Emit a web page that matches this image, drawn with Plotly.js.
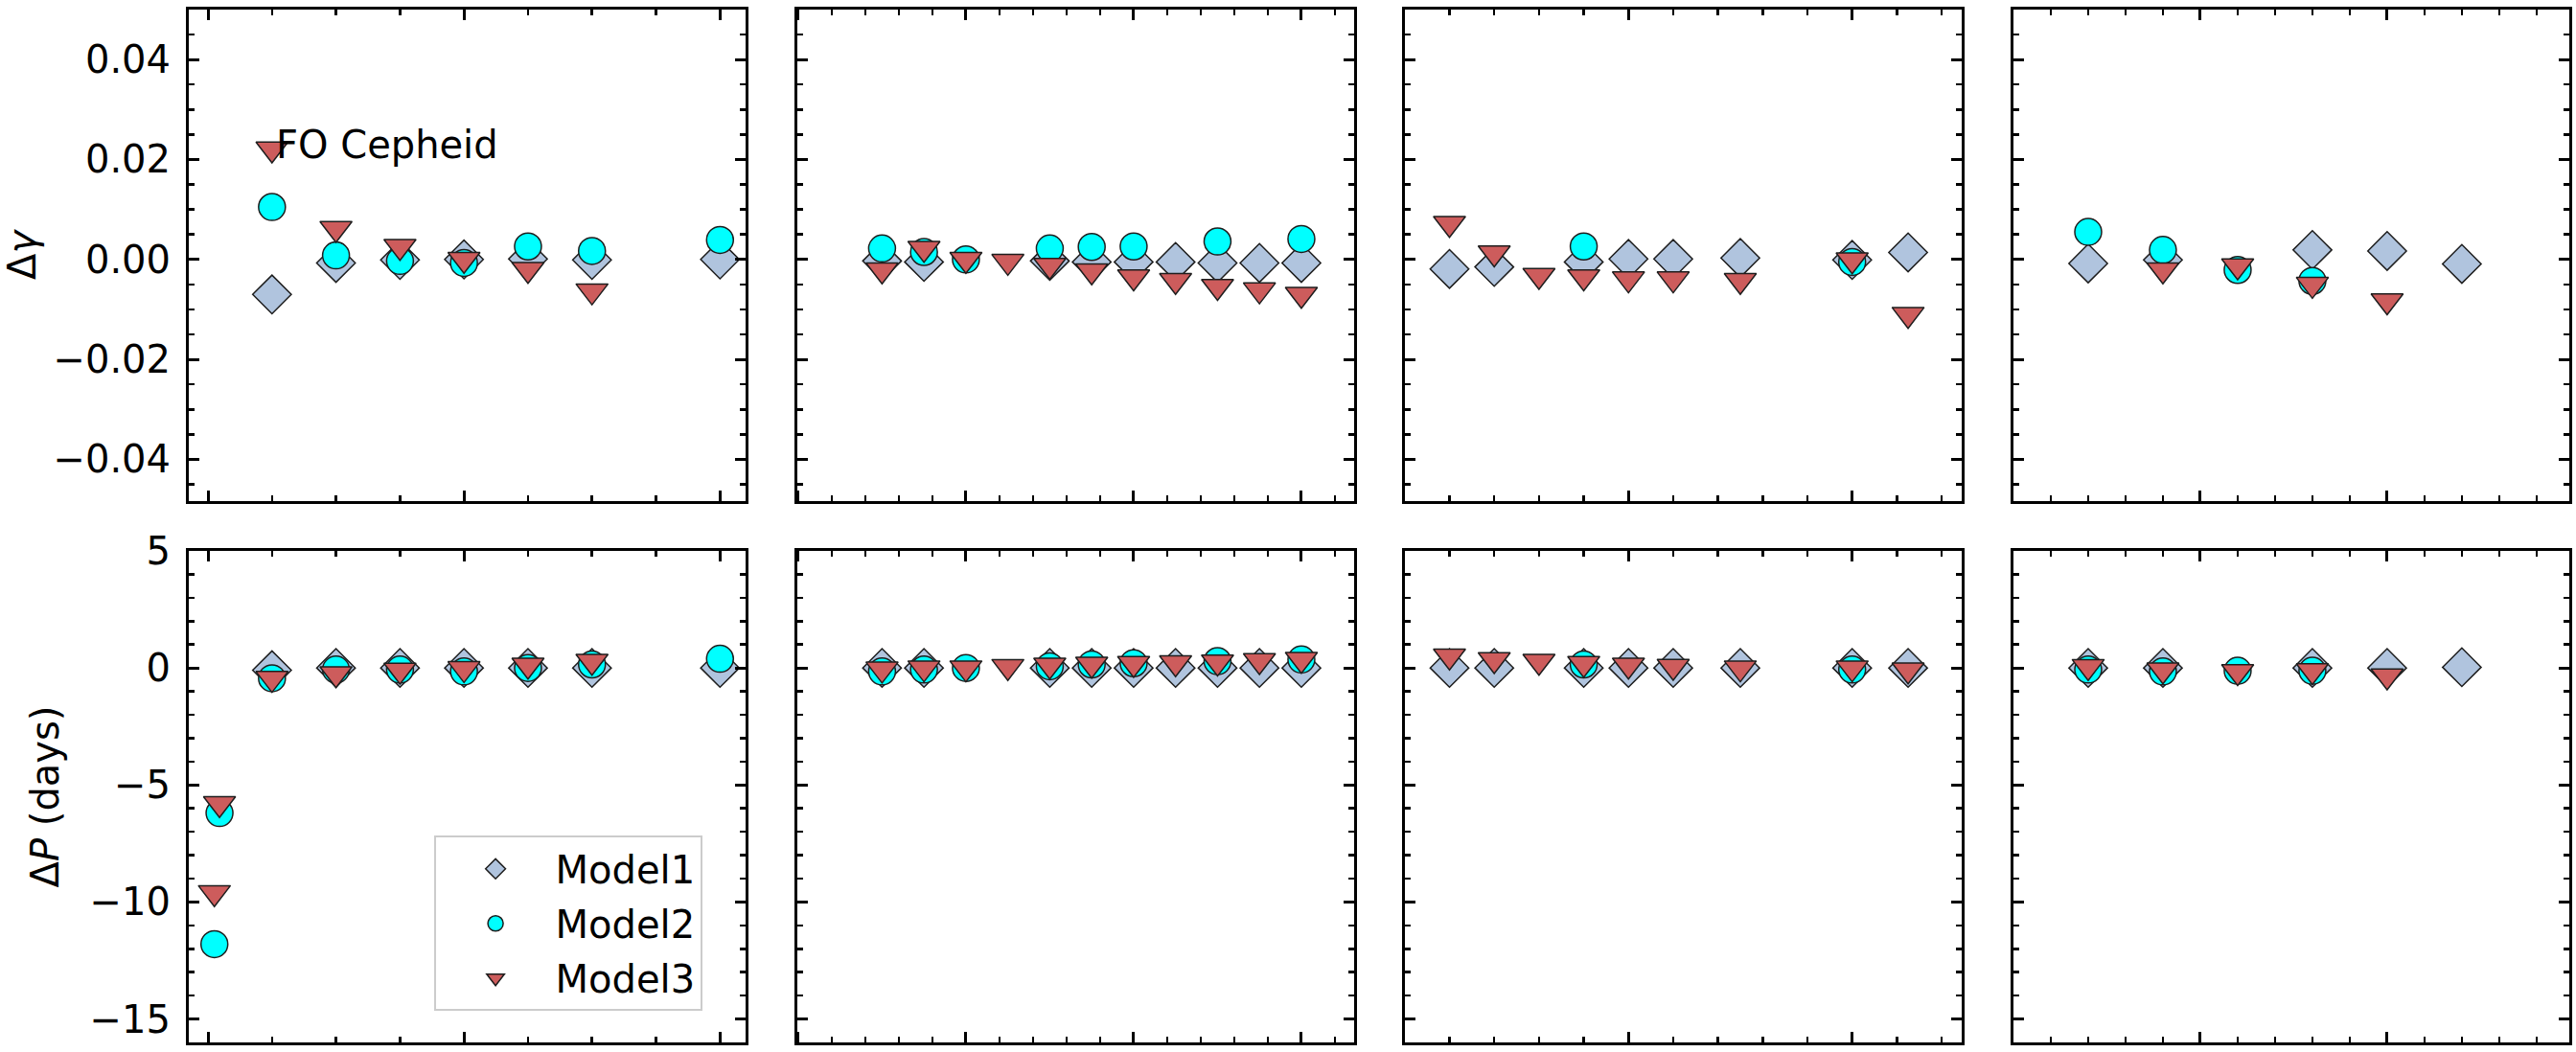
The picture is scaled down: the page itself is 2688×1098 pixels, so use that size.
<!DOCTYPE html>
<html><head><meta charset="utf-8">
<script src="https://cdn.plot.ly/plotly-3.0.1.min.js"></script>
<style>html,body{margin:0;padding:0;background:#fff}#chart{width:2688px;height:1098px}</style>
</head><body><div id="chart"></div>
<script>
// ---------------- data ----------------
const modelNames = ['Model1', 'Model2', 'Model3'];
const annotationText = 'FO Cepheid';
const yTitleTop = 'Δ<i>γ</i>';
const yTitleBottom = 'Δ<i>P</i> (days)';

// column 1
const x1Gamma = [0.5, 1.0, 1.5, 2.0, 2.5, 3.0, 4.0];
const m1Gamma1 = [-0.007, -0.0007, -0.0001, 0.0, 0.0001, -0.0001, 0.0];
const m2Gamma1 = [0.0105, 0.0008, -0.0003, -0.0007, 0.0026, 0.0017, 0.0039];
const m3Gamma1 = [0.0221, 0.0062, 0.0026, 0.0, -0.002, -0.0063, null];
const x1Period = [0.05, 0.09, 0.5, 1.0, 1.5, 2.0, 2.5, 3.0, 4.0];
const m1Period1 = [null, null, -0.1, 0.0, 0.0, 0.0, 0.0, 0.0, 0.0];
const m2Period1 = [-11.8, -6.2, -0.44, -0.07, -0.07, -0.15, 0.0, 0.15, 0.39];
const m3Period1 = [-9.6, -5.8, -0.45, -0.25, -0.1, -0.03, 0.12, 0.28, null];

// column 2
const x2 = [-0.5, -0.25, 0, 0.25, 0.5, 0.75, 1.0, 1.25, 1.5, 1.75, 2.0];
const m1Gamma2 = [-0.0003, -0.0005, null, null, -0.0003, -0.0005, -0.0005, -0.0005, -0.0007, -0.0007, -0.0007];
const m2Gamma2 = [0.0022, 0.0015, 0.0, null, 0.0022, 0.0025, 0.0026, null, 0.0036, null, 0.0041];
const m3Gamma2 = [-0.0021, 0.0022, 0.0, -0.0004, -0.0012, -0.0023, -0.0035, -0.0042, -0.0054, -0.0061, -0.007];
const m1Period2 = [0, 0, null, null, 0, 0, 0, 0, 0, 0, 0];
const m2Period2 = [-0.15, -0.07, 0, null, 0.07, 0.15, 0.2, null, 0.29, null, 0.36];
const m3Period2 = [-0.05, 0, 0, 0.06, 0.12, 0.16, 0.19, 0.22, 0.25, 0.31, 0.36];

// column 3
const x3 = [-0.8, -0.6, -0.4, -0.2, 0, 0.2, 0.5, 1.0, 1.25];
const m1Gamma3 = [-0.0019, -0.0015, null, -0.0005, 0.0001, 0.0001, 0.0003, -0.0001, 0.0014];
const m2Gamma3 = [null, null, null, 0.0026, null, null, null, -0.0005, null];
const m3Gamma3 = [0.0072, 0.0013, -0.0032, -0.0035, -0.0039, -0.0039, -0.0042, -0.0001, -0.011];
const m1Period3 = [0, 0, null, 0, 0, 0, 0, 0, 0];
const m2Period3 = [null, null, null, 0.15, null, null, null, -0.07, null];
const m3Period3 = [0.51, 0.35, 0.28, 0.19, 0.12, 0.07, 0, 0, -0.09];

// column 4
const x4 = [-0.6, -0.2, 0.2, 0.6, 1.0, 1.4];
const m1Gamma4 = [-0.0008, -0.0001, null, 0.0019, 0.0017, -0.0009];
const m2Gamma4 = [0.0055, 0.0019, -0.0021, -0.0043, null, null];
const m3Gamma4 = [null, -0.0021, -0.0013, -0.005, -0.0083, null];
const m1Period4 = [0, 0, null, 0, 0, 0.03];
const m2Period4 = [-0.07, -0.15, -0.12, -0.12, null, null];
const m3Period4 = [0.06, -0.09, -0.16, -0.12, -0.34, null];

// ---------------- styling ----------------
const FONT = 'DejaVu Sans, Liberation Sans, sans-serif';
const styles = [
  {symbol: 'diamond', size: 31, color: '#B0C4DE'},
  {symbol: 'circle', size: 28, color: '#00FFFF'},
  {symbol: 'triangle-down', size: 29, color: '#CD5C5C'}
];

const panels = [
  // top row
  {x: [x1Gamma, x1Gamma, x1Gamma], y: [m1Gamma1, m2Gamma1, m3Gamma1]},
  {x: [x2, x2, x2], y: [m1Gamma2, m2Gamma2, m3Gamma2]},
  {x: [x3, x3, x3], y: [m1Gamma3, m2Gamma3, m3Gamma3]},
  {x: [x4, x4, x4], y: [m1Gamma4, m2Gamma4, m3Gamma4]},
  // bottom row
  {x: [x1Period, x1Period, x1Period], y: [m1Period1, m2Period1, m3Period1]},
  {x: [x2, x2, x2], y: [m1Period2, m2Period2, m3Period2]},
  {x: [x3, x3, x3], y: [m1Period3, m2Period3, m3Period3]},
  {x: [x4, x4, x4], y: [m1Period4, m2Period4, m3Period4]}
];

const traces = [];
panels.forEach((p, i) => {
  const n = i + 1;
  for (let m = 0; m < 3; m++) {
    traces.push({
      type: 'scatter', mode: 'markers',
      x: p.x[m], y: p.y[m],
      xaxis: 'x' + (n === 1 ? '' : n), yaxis: 'y' + (n === 1 ? '' : n),
      name: modelNames[m], legendgroup: modelNames[m],
      showlegend: n === 5,
      marker: {symbol: styles[m].symbol, size: styles[m].size, color: styles[m].color,
               line: {color: '#1e1e1e', width: 1.5}},
      hoverinfo: 'skip'
    });
  }
});

const colDomains = [[0, 0.2339], [0.2555, 0.4895], [0.5108, 0.7448], [0.7665, 1]];
const colX = [
  {range: [-0.15, 4.2], dtick: 2, minor: 0.5},
  {range: [-1.007, 2.314], dtick: 1, minor: 0.2},
  {range: [-1.0, 1.49], dtick: 1, minor: 0.2},
  {range: [-1.0, 1.975], dtick: 1, minor: 0.2}
];
const rowDomains = [[0.5244, 1], [0, 0.4759]];
const rowY = [
  {range: [-0.0483, 0.05], dtick: 0.02, minor: 0.005, fmt: '.2f', title: yTitleTop, standoff: 14},
  {range: [-16, 5], dtick: 5, minor: 1, fmt: '', title: yTitleBottom, standoff: 20}
];

const baseAxis = {
  showline: true, linecolor: 'black', linewidth: 3, mirror: 'allticks',
  ticks: 'inside', ticklen: 11, tickwidth: 3, tickcolor: 'black',
  showgrid: false, zeroline: false, fixedrange: true,
  tickfont: {family: FONT, size: 40, color: 'black'}
};

const layout = {
  width: 2688, height: 1098,
  margin: {l: 197, r: 7, t: 10, b: 10},
  paper_bgcolor: 'white', plot_bgcolor: 'white',
  font: {family: FONT, color: 'black', size: 40},
  showlegend: true,
  legend: {
    x: 0.1029, y: 0.2001, xanchor: 'left', yanchor: 'top',
    xref: 'paper', yref: 'paper',
    bgcolor: 'white', bordercolor: '#cccccc', borderwidth: 2,
    font: {family: FONT, size: 40, color: 'black'},
    tracegroupgap: 2, itemwidth: 115
  },
  annotations: [{
    xref: 'x', yref: 'y', x: 0.52, y: 0.02, xanchor: 'left', yanchor: 'bottom',
    yshift: -10, text: annotationText, showarrow: false,
    font: {family: FONT, size: 40, color: 'black'}
  }]
};

for (let r = 0; r < 2; r++) {
  for (let c = 0; c < 4; c++) {
    const n = r * 4 + c + 1;
    const xs = n === 1 ? '' : n;
    const cx = colX[c], ry = rowY[r];
    layout['xaxis' + xs] = Object.assign({}, baseAxis, {
      domain: colDomains[c], anchor: 'y' + xs, range: cx.range,
      tick0: 0, dtick: cx.dtick, showticklabels: false,
      minor: {ticks: 'inside', ticklen: 6, tickwidth: 2.5, tickcolor: 'black', tick0: 0, dtick: cx.minor, showgrid: false}
    });
    const yax = Object.assign({}, baseAxis, {
      domain: rowDomains[r], anchor: 'x' + xs, range: ry.range,
      tick0: 0, dtick: ry.dtick, tickformat: ry.fmt, showticklabels: c === 0,
      ticklabelstandoff: 8,
      minor: {ticks: 'inside', ticklen: 6, tickwidth: 2.5, tickcolor: 'black', tick0: 0, dtick: ry.minor, showgrid: false}
    });
    if (c === 0) {
      yax.title = {text: ry.title, standoff: ry.standoff, font: {family: FONT, size: 40, color: 'black'}};
    }
    layout['yaxis' + xs] = yax;
  }
}

Plotly.newPlot('chart', traces, layout, {staticPlot: true, displayModeBar: false});
</script>
</body></html>
